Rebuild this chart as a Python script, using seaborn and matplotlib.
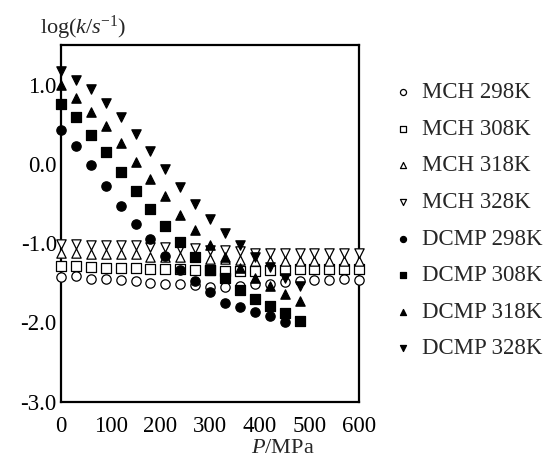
import numpy as np
import pandas as pd
import matplotlib
matplotlib.use("Agg")
import matplotlib.pyplot as plt
import seaborn as sns

# pressure grid (MPa)
pressure_all = [0, 30, 60, 90, 120, 150, 180, 210, 240, 270, 300, 330, 360,
                390, 420, 450, 480, 510, 540, 570, 600]

mch_298 = [-1.43, -1.42, -1.45, -1.45, -1.46, -1.48, -1.50, -1.51, -1.51, -1.53, -1.55,
           -1.55, -1.54, -1.52, -1.51, -1.49, -1.48, -1.47, -1.46, -1.45, -1.46]
mch_308 = [-1.29, -1.29, -1.30, -1.31, -1.31, -1.31, -1.32, -1.33, -1.33, -1.34, -1.34,
           -1.35, -1.35, -1.35, -1.34, -1.34, -1.33, -1.33, -1.32, -1.33, -1.33]
mch_318 = [-1.13, -1.13, -1.14, -1.14, -1.14, -1.14, -1.17, -1.17, -1.18, -1.18, -1.20,
           -1.20, -1.21, -1.22, -1.22, -1.22, -1.22, -1.22, -1.22, -1.22, -1.22]
mch_328 = [-1.01, -1.01, -1.02, -1.02, -1.02, -1.02, -1.05, -1.05, -1.06, -1.06, -1.09,
           -1.09, -1.10, -1.12, -1.12, -1.12, -1.12, -1.12, -1.12, -1.12, -1.12]

dcmp_298 = [0.43, 0.22, -0.02, -0.28, -0.53, -0.76, -0.95, -1.16, -1.34, -1.48,
            -1.62, -1.76, -1.81, -1.87, -1.92, -1.99]
dcmp_308 = [0.75, 0.59, 0.37, 0.15, -0.10, -0.34, -0.57, -0.78, -0.99, -1.17,
            -1.34, -1.44, -1.59, -1.70, -1.79, -1.88, -1.98]
dcmp_318 = [0.99, 0.83, 0.66, 0.48, 0.26, 0.03, -0.19, -0.40, -0.64, -0.83,
            -1.02, -1.17, -1.31, -1.44, -1.54, -1.64, -1.73]
dcmp_328 = [1.17, 1.06, 0.95, 0.77, 0.59, 0.38, 0.16, -0.07, -0.29, -0.50,
            -0.70, -0.87, -1.02, -1.18, -1.30, -1.44, -1.54]

labels = ["MCH 298K", "MCH 308K", "MCH 318K", "MCH 328K",
          "DCMP 298K", "DCMP 308K", "DCMP 318K", "DCMP 328K"]
series = [mch_298, mch_308, mch_318, mch_328,
          dcmp_298, dcmp_308, dcmp_318, dcmp_328]
markers = ["o", "s", "^", "v", "o", "s", "^", "v"]
faces = ["white"] * 4 + ["black"] * 4

sns.set_style("white")
plt.rcParams["font.family"] = ["Liberation Serif", "DejaVu Serif"]
plt.rcParams["mathtext.fontset"] = "custom"
plt.rcParams["mathtext.rm"] = "Liberation Serif"
plt.rcParams["mathtext.it"] = "Liberation Serif:italic"
plt.rcParams["axes.unicode_minus"] = False

fig = plt.figure(figsize=(5.45, 4.63), dpi=100)
ax = fig.add_axes([0.112, 0.1324, 0.547, 0.7704])

for i, (lab, vals) in enumerate(zip(labels, series)):
    d = pd.DataFrame({"P": pressure_all[:len(vals)], "logk": vals})
    sns.scatterplot(data=d, x="P", y="logk", marker=markers[i], s=45,
                    color=faces[i], edgecolor="black", linewidth=0.9,
                    label=lab, ax=ax, clip_on=False, zorder=3 + i)

ax.set_xlim(0, 600)
ax.set_ylim(-3.0, 1.5)
ax.set_xticks(range(0, 601, 100))
ax.set_yticks([-3, -2, -1, 0, 1])
ax.set_yticklabels(["-3.0", "-2.0", "-1.0", "0.0", "1.0"])
ax.tick_params(direction="in", length=4, width=1.5, labelsize=16.5, color="black",
               labelcolor="black")
ax.tick_params(axis="x", pad=10)
ax.tick_params(axis="y", pad=3)
for sp in ax.spines.values():
    sp.set_linewidth(1.6)
    sp.set_color("black")

ax.set_xlabel(r"$P$/MPa", fontsize=16)
ax.xaxis.set_label_coords(0.745, -0.105)
ax.set_ylabel("")
fig.text(40 / 545, 1 - 28 / 463, r"log($k$/$s$$^{\mathrm{-1}}$)", fontsize=16,
         ha="left", va="center")

ax.legend(loc="upper left", bbox_to_anchor=(392 / 545, 1 - 82 / 463),
          bbox_transform=fig.transFigure, frameon=False, fontsize=16.5,
          markerscale=0.65, handlelength=1.0, handletextpad=0.3,
          labelspacing=0.68, borderpad=0, borderaxespad=0)

fig.savefig("out.png", dpi=100)
